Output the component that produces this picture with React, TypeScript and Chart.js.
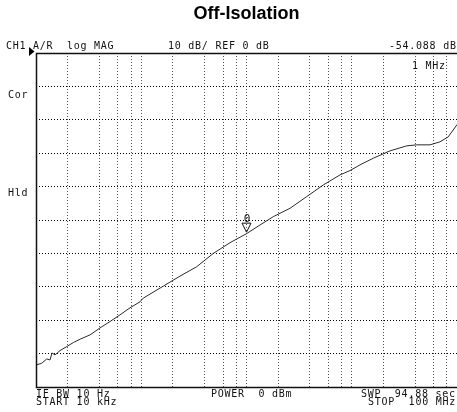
import React, { useEffect, useRef } from "react";
import { Chart, registerables } from "chart.js";

Chart.register(...registerables);

const freqHz = [
  10000, 11330, 12640, 13590, 14190, 15160, 16900, 19570, 22620, 26180,
  32600, 40600, 50500, 62800, 78200, 97300, 104500, 162000, 233500, 336000,
  484000, 697000, 1000000, 1343000, 1797000, 2590000, 3730000, 5370000, 7730000, 9620000,
  11970000, 16020000, 23100000, 33300000, 41400000, 55400000, 68900000, 82600000, 99300000, 100000000,
];
const magDb = [
  -93.4, -92.9, -91.6, -91.9, -89.8, -90.4, -89.1, -87.9, -86.7, -85.7,
  -84.4, -82.3, -80.4, -78.4, -76.3, -74.5, -73.4, -69.8, -66.8, -64.0,
  -60.0, -56.8, -54.09, -51.5, -49.0, -46.5, -43.0, -39.5, -36.5, -35.2,
  -33.5, -31.5, -29.3, -27.8, -27.5, -27.5, -26.6, -25.1, -21.6, -21.4,
];

// Vertical grid positions (2, 4, 6, 8 per decade)
const xGridTicks = [
  1e4, 2e4, 4e4, 6e4, 8e4,
  1e5, 2e5, 4e5, 6e5, 8e5,
  1e6, 2e6, 4e6, 6e6, 8e6,
  1e7, 2e7, 4e7, 6e7, 8e7,
  1e8,
];
const yMin = -100;
const yMax = 0;
const yStep = 10;

const markerFreq = 1e6;
const markerDb = -54.088;

const titleText = "Off-Isolation";
const headerLeft = "CH1 A/R  log MAG";
const headerMid = "10 dB/ REF 0 dB";
const headerRight = "-54.088 dB";
const markerLabel = "1 MHz";
const sideLabels = ["Cor", "Hld"];
const footer1 = ["IF BW 10 Hz", "POWER  0 dBm", "SWP  94.88 sec"];
const footer2 = ["START 10 kHz", "STOP  100 MHz"];

const overlay = {
  id: "overlay",
  afterDraw(chart: any) {
    const { ctx, chartArea: a, scales } = chart;
    ctx.save();
    // frame
    ctx.strokeStyle = "#111";
    ctx.lineWidth = 1.5;
    ctx.beginPath();
    ctx.moveTo(a.right, a.top + 0.5);
    ctx.lineTo(a.left + 0.5, a.top + 0.5);
    ctx.lineTo(a.left + 0.5, a.bottom + 0.5);
    ctx.lineTo(a.right, a.bottom + 0.5);
    ctx.stroke();

    // reference position triangle
    ctx.fillStyle = "#000";
    ctx.beginPath();
    ctx.moveTo(29, a.top - 6);
    ctx.lineTo(29, a.top + 3);
    ctx.lineTo(34.5, a.top - 1.5);
    ctx.closePath();
    ctx.fill();

    // texts
    ctx.font = '10px "DejaVu Sans Mono"';
    (ctx as any).letterSpacing = "0.75px";
    ctx.fillStyle = "#111";
    ctx.textBaseline = "alphabetic";
    ctx.textAlign = "left";
    const hy = a.top - 4;
    ctx.fillText(headerLeft, 6, hy);
    ctx.fillText(headerMid, 168, hy);
    ctx.fillText(headerRight, 389, hy);
    ctx.fillText(markerLabel, 412, a.top + 16);
    ctx.fillText(sideLabels[0], 8, 98);
    ctx.fillText(sideLabels[1], 8, 196);
    const f1 = a.bottom + 9.5;
    const f2 = a.bottom + 18;
    ctx.fillText(footer1[0], 36, f1);
    ctx.fillText(footer1[1], 211, f1);
    ctx.fillText(footer1[2], 361, f1);
    ctx.fillText(footer2[0], 36, f2);
    ctx.fillText(footer2[1], 368, f2);

    // marker
    const px = scales.x.getPixelForValue(markerFreq);
    const py = scales.y.getPixelForValue(markerDb);
    ctx.strokeStyle = "#111";
    ctx.lineWidth = 1;
    ctx.beginPath();
    ctx.moveTo(px - 4.5, py - 10.5);
    ctx.lineTo(px + 4.5, py - 10.5);
    ctx.lineTo(px, py - 1.5);
    ctx.closePath();
    ctx.stroke();
    (ctx as any).letterSpacing = "0px";
    ctx.textAlign = "center";
    ctx.font = '11px "DejaVu Sans Mono"';
    ctx.fillText("0", px + 0.5, py - 12);
    ctx.restore();
  },
};

export default function App() {
  const ref = useRef<HTMLCanvasElement | null>(null);
  useEffect(() => {
    if (!ref.current) return;
    const chart = new Chart(ref.current, {
      type: "line",
      data: {
        datasets: [
          {
            data: freqHz.map((f, i) => ({ x: f, y: magDb[i] })),
            borderColor: "#2a2a2a",
            borderWidth: 1,
            pointRadius: 0,
            tension: 0,
          },
        ],
      },
      options: {
        responsive: false,
        animation: false,
        devicePixelRatio: 1,
        layout: { padding: { left: 36, right: 0, top: 0, bottom: 25 } },
        plugins: {
          legend: { display: false },
          tooltip: { enabled: false },
          title: {
            display: true,
            text: titleText,
            fullSize: false,
            color: "#000",
            font: { family: '"Liberation Sans", Arial, sans-serif', size: 18, weight: "bold" },
            padding: { top: 3, bottom: 28.4 },
          },
        },
        scales: {
          x: {
            type: "logarithmic",
            min: 1e4,
            max: 1e8,
            afterBuildTicks: (s: any) => {
              s.ticks = xGridTicks.map((v) => ({ value: v }));
            },
            ticks: { display: false },
            grid: { color: "#555", lineWidth: 1, drawTicks: false },
            border: { display: false, dash: [1, 2] },
          },
          y: {
            min: yMin,
            max: yMax,
            ticks: { display: false, stepSize: yStep },
            grid: { color: "#000", lineWidth: 1, drawTicks: false },
            border: { display: false, dash: [1, 2] },
          },
        },
      },
      plugins: [overlay],
    } as any);
    return () => chart.destroy();
  }, []);
  return (
    <div style={{ position: "absolute", left: 0, top: 0, width: 457, height: 412, background: "#fff" }}>
      <canvas ref={ref} width={457} height={412} />
    </div>
  );
}
